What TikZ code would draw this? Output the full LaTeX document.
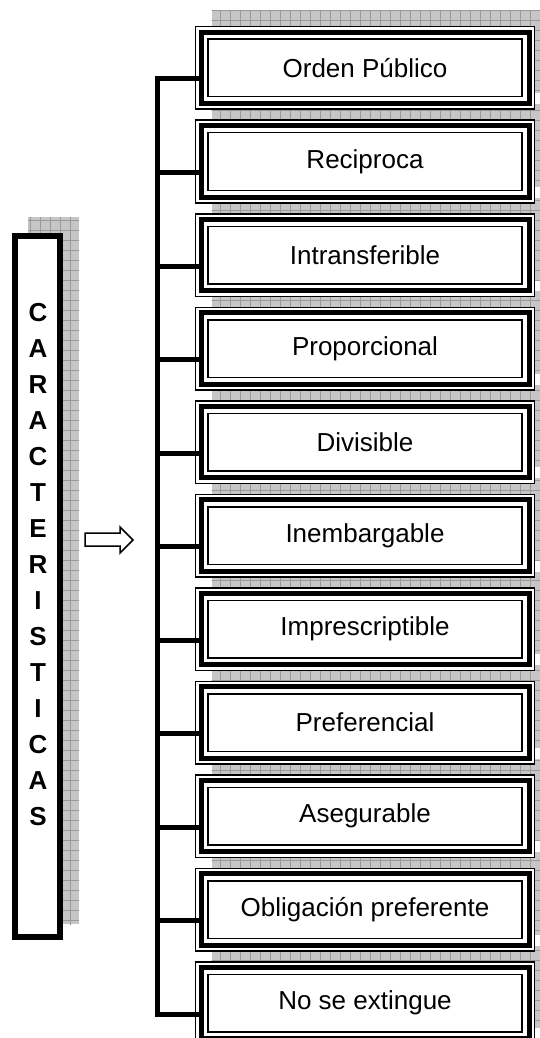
\documentclass[tikz,border=0pt]{standalone}
\usepackage{fontspec}
\setmainfont{Liberation Sans}

\begin{document}
\begin{tikzpicture}[x=0.5pt,y=-0.5pt,
  caja/.style={draw,line width=0.75pt,fill=white,minimum width=169.5pt,minimum height=41.25pt,
    inner sep=0pt,outer sep=0pt,font=\fontsize{13}{15}\selectfont},
  sombra/.style={fill=gray!45},
  rejilla/.style={draw=gray!80,line width=0.3pt,step=5pt},
  rama/.style={line width=2.5pt,shorten >=-1.5pt}]
% Parameters
\def\bx{365}; \def\bytop{68}; \def\pitch{93.5};
\def\tx{157}; \def\drop{11};

% Page
\useasboundingbox (0,0) rectangle (540,1038);
\clip (0,0) rectangle (540,1038);

% Shadows
\begin{scope}
  \clip (28,217) rectangle (79,924);
  \fill[sombra] (28,217) rectangle (79,924);
  \draw[rejilla] (20,210) grid (90,930);
\end{scope}
\foreach \i in {1,...,11}{
  \pgfmathsetmacro\cy{\bytop+(\i-1)*\pitch}
  \begin{scope}
    \clip (211.5,\cy-57.25) rectangle (550.5,\cy+25.25);
    \fill[sombra] (211.5,\cy-57.25) rectangle (550.5,\cy+25.25);
    \draw[rejilla] (200,\cy-70) grid (560,\cy+40);
  \end{scope}
}

% Left box
\node[draw,line width=3pt,fill=white,minimum width=22.5pt,minimum height=350.5pt,inner sep=0pt] (car) at (37.5,586.5) {};
\node[font=\bfseries\fontsize{13}{18}\selectfont,align=center] (titulo) at (38,565)
  {C\\A\\R\\A\\C\\T\\E\\R\\I\\S\\T\\I\\C\\A\\S};

% Arrow
\draw[line width=0.75pt,fill=white] (85,533) -- (120,533) -- (120,527) -- (133,540)
  -- (120,553) -- (120,546) -- (85,546) -- cycle;

% Boxes
\foreach \t [count=\i] in {Orden Público, Reciproca, Intransferible, Proporcional, Divisible,
    Inembargable, Imprescriptible, Preferencial, Asegurable, Obligación preferente, No se extingue}{
  \pgfmathsetmacro\cy{\bytop+(\i-1)*\pitch}
  \node[caja] (b\i) at (\bx,\cy) {\t};
  \draw[line width=2.5pt] ([xshift=2.75pt,yshift=-2.75pt]b\i.north west) rectangle ([xshift=-2.75pt,yshift=2.75pt]b\i.south east);
  \draw[line width=0.75pt] ([xshift=6.25pt,yshift=-6.25pt]b\i.north west) rectangle ([xshift=-6.25pt,yshift=6.25pt]b\i.south east);
}

% Connectors
\foreach \i in {1,...,11}{
  \pgfmathsetmacro\jy{\bytop+(\i-1)*\pitch+\drop}
  \coordinate (j\i) at (\tx,\jy);
  \draw[rama] (j\i) -- (b\i.west |- j\i);
}
\draw[line width=2.5pt,line cap=rect] (j1) -- (j11);
\end{tikzpicture}
\end{document}
